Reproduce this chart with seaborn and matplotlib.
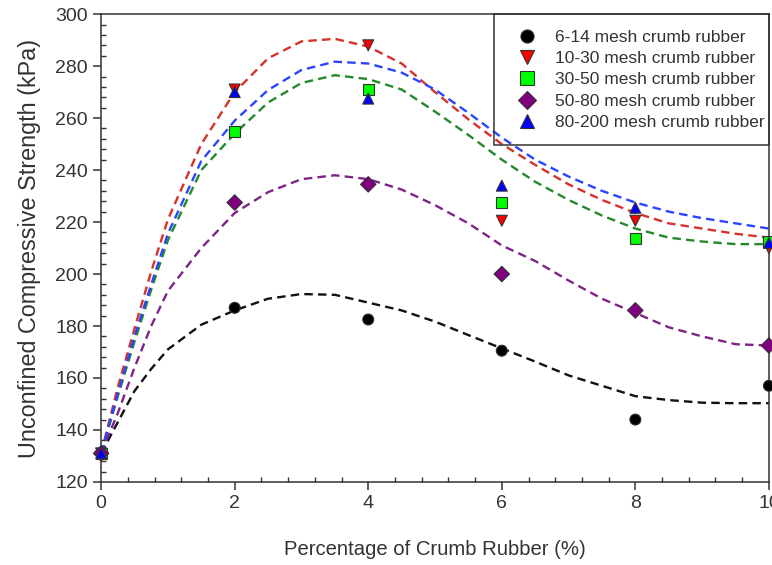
import matplotlib
matplotlib.use("Agg")
import matplotlib.pyplot as plt
from matplotlib.patches import Rectangle
from matplotlib.ticker import MultipleLocator
import pandas as pd
import seaborn as sns

series = [
    "6-14 mesh crumb rubber",
    "10-30 mesh crumb rubber",
    "30-50 mesh crumb rubber",
    "50-80 mesh crumb rubber",
    "80-200 mesh crumb rubber",
]

# measured points
pct = [0, 2, 4, 6, 8, 10]
ucs_6_14 = [131, 187, 182.5, 170.5, 144, 157]
ucs_10_30 = [131, 271, 288, 220.5, 220.5, 210]
ucs_30_50 = [131, 255, 271, 227.5, 213.5, 212.5]
ucs_50_80 = [131, 227.5, 234.5, 200, 186, 172.5]
ucs_80_200 = [131, 270, 267.5, 234, 225.5, 212]

# dashed trend lines
fit_pct = [0, 0.25, 0.5, 0.75, 1, 1.5, 2, 2.5, 3, 3.5, 4, 4.5, 5, 5.5, 6,
           6.5, 7, 7.5, 8, 8.5, 9, 9.5, 10]
fit_6_14 = [131, 143, 155, 163.5, 171, 180.5, 186, 190.5, 192.3, 192, 189,
            186, 181.7, 176.5, 171.4, 166.3, 161, 157, 153, 151.5, 150.5, 150.3, 150.3]
fit_10_30 = [131, 156.5, 179, 201, 221, 250, 270, 283, 289.5, 290.5, 287.5,
             281, 270, 259.5, 250, 242, 234.5, 228.5, 223.5, 219.5, 217.5, 215.5, 214]
fit_30_50 = [131, 153, 174, 194, 213, 240, 254, 266, 273.5, 276.5, 275,
             271, 262.5, 253.5, 244, 235.5, 228.5, 222.5, 217.5, 214, 212.5, 211.5, 211.5]
fit_50_80 = [131, 146.5, 164, 180, 193.5, 210, 223.5, 231.5, 236.5, 238, 236.5,
             232.5, 226.5, 219.5, 211, 205, 197.5, 190.5, 185, 179.5, 176, 173, 172.5]
fit_80_200 = [131, 154, 176, 196, 215.5, 243.5, 259, 270.8, 278.5, 281.7, 281,
              277.5, 271, 262, 252.5, 244, 237.5, 232, 227.5, 224, 221.5, 219.5, 217.5]

point_cols = [ucs_6_14, ucs_10_30, ucs_30_50, ucs_50_80, ucs_80_200]
fit_cols = [fit_6_14, fit_10_30, fit_30_50, fit_50_80, fit_80_200]

points = pd.concat(
    [pd.DataFrame({"pct": pct, "ucs": v, "series": s}) for s, v in zip(series, point_cols)],
    ignore_index=True,
)
fits = pd.concat(
    [pd.DataFrame({"pct": fit_pct, "ucs": v, "series": s}) for s, v in zip(series, fit_cols)],
    ignore_index=True,
)

marker_colors = dict(zip(series, ["black", "#ff0000", "#00ff00", "#800080", "#0000ff"]))
line_colors = dict(zip(series, ["#111111", "#d8302a", "#23892b", "#7e2486", "#2a45ff"]))
markers = dict(zip(series, ["o", "v", "s", "D", "^"]))

sns.set_style("ticks")
plt.rcParams["font.family"] = ["Liberation Sans", "DejaVu Sans"]

fig = plt.figure(figsize=(7.72, 5.65), dpi=100)
ax = fig.add_axes([0.131, 0.147, 0.865, 0.828])

sns.lineplot(
    data=fits, x="pct", y="ucs", hue="series", palette=line_colors,
    linewidth=1.7, legend=False, ax=ax, sort=False,
)
for line in ax.get_lines():
    line.set_dashes((3.6, 2.2))

sns.scatterplot(
    data=points, x="pct", y="ucs", hue="series", style="series",
    palette=marker_colors, markers=markers, s=62,
    edgecolor="#333333", linewidth=0.8, zorder=5, ax=ax, clip_on=False,
)

ax.set_xlim(0, 10)
ax.set_ylim(120, 300)
ax.xaxis.set_major_locator(MultipleLocator(2))
ax.xaxis.set_minor_locator(MultipleLocator(0.4))
ax.yaxis.set_major_locator(MultipleLocator(20))
ax.yaxis.set_minor_locator(MultipleLocator(4))
ax.tick_params(which="major", direction="out", length=6, width=1.1,
               labelsize=14, colors="#333333")
ax.tick_params(which="minor", direction="in", length=3.5, width=1.0, color="#333333")
for sp in ax.spines.values():
    sp.set_visible(True)
    sp.set_color("#333333")
    sp.set_linewidth(1.1)

ax.set_xlabel("Percentage of Crumb Rubber (%)", fontsize=14.6, color="#333333", labelpad=20)
ax.set_ylabel("Unconfined Compressive Strength (kPa)", fontsize=16.8, color="#333333", labelpad=10)

# legend: text without its own frame, box drawn to the reference's extent
leg = ax.legend(
    loc="upper left", bbox_to_anchor=(0.588, 1.0), borderaxespad=0, fontsize=12.5,
    frameon=False, borderpad=0.9, labelspacing=0.35, handletextpad=0.6,
    markerscale=1.2,
)
for t in leg.get_texts():
    t.set_color("#333333")
ax.add_patch(Rectangle((0.588, 0.72), 0.412, 0.28, transform=ax.transAxes,
                       fill=False, edgecolor="#333333", linewidth=1.1, zorder=6,
                       clip_on=False))

fig.savefig("out.png", dpi=100)
